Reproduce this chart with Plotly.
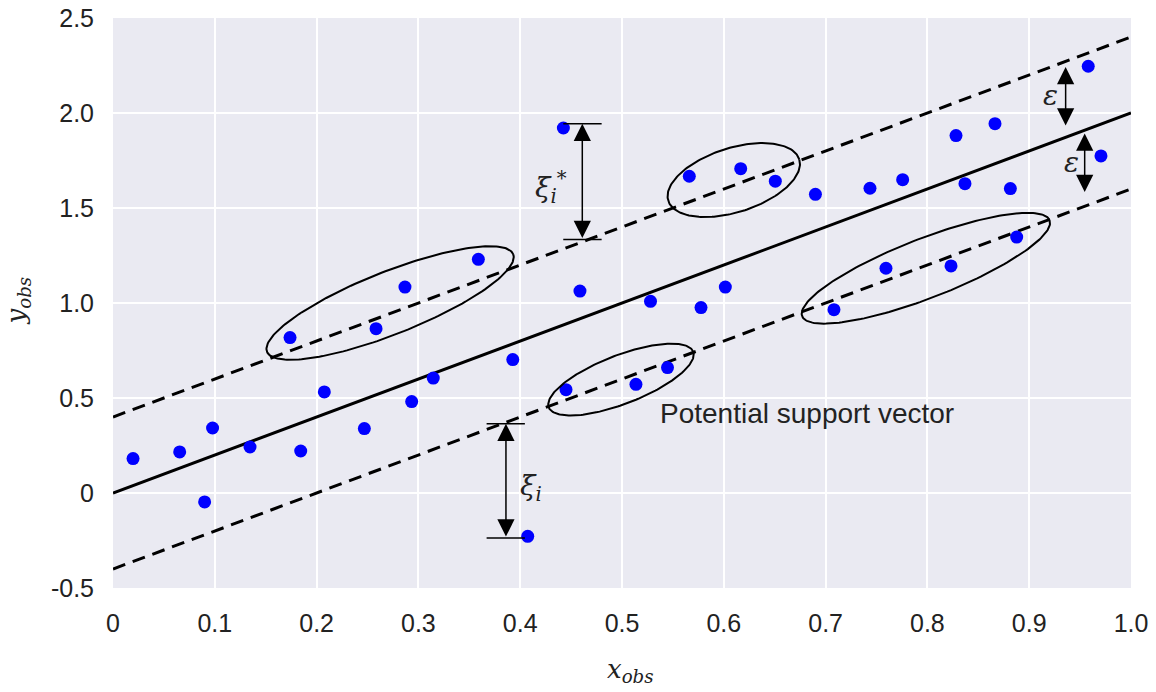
import numpy as np
import plotly.graph_objects as go

# ---------------- data ----------------
x_obs = [0.0197, 0.0655, 0.090, 0.0978, 0.1346, 0.1739, 0.1844, 0.2076, 0.2584, 0.2469,
         0.2868, 0.2934, 0.3146, 0.3589, 0.3927, 0.4074, 0.4424, 0.445, 0.4587, 0.5137,
         0.528, 0.5447, 0.5661, 0.5776, 0.6015, 0.6166, 0.6506, 0.690, 0.7082, 0.7436,
         0.7593, 0.7757, 0.8232, 0.8281, 0.8369, 0.8664, 0.8815, 0.8877, 0.958, 0.9705]
y_obs = [0.181, 0.216, -0.047, 0.342, 0.242, 0.818, 0.221, 0.532, 0.865, 0.339,
         1.084, 0.481, 0.605, 1.230, 0.702, -0.228, 1.921, 0.544, 1.063, 0.572,
         1.009, 0.660, 1.667, 0.976, 1.084, 1.707, 1.641, 1.572, 0.965, 1.604,
         1.183, 1.649, 1.195, 1.881, 1.628, 1.944, 1.602, 1.347, 2.246, 1.774]

line_x = [0.0, 1.0]
line_mid = [0.0, 2.0]
line_upper = [0.4, 2.4]
line_lower = [-0.4, 1.6]

x_ticks = [0, 0.1, 0.2, 0.3, 0.4, 0.5, 0.6, 0.7, 0.8, 0.9, 1.0]
x_ticktext = ["0", "0.1", "0.2", "0.3", "0.4", "0.5", "0.6", "0.7", "0.8", "0.9", "1.0"]
y_ticks = [-0.5, 0, 0.5, 1.0, 1.5, 2.0, 2.5]
y_ticktext = ["-0.5", "0", "0.5", "1.0", "1.5", "2.0", "2.5"]

# ellipses: centre (data), semi axes (px), tilt (deg)
ell_cx = [0.2722, 0.6098, 0.499, 0.7985]
ell_cy = [1.0, 1.647, 0.597, 1.183]
ell_a = [132.4, 68.7, 77.4, 132.7]
ell_b = [31.3, 32.1, 24.3, 29.7]
ell_ang = [21.6, 17.6, 21.1, 21.2]

# double arrows: x, y_top, y_bottom
arr_x = [0.461, 0.386, 0.9358, 0.9545]
arr_top = [1.944, 0.365, 2.242, 1.892]
arr_bot = [1.334, -0.237, 1.926, 1.576]
# cap lines: y, x0, x1
cap_y = [1.944, 1.334, 0.365, -0.237]
cap_x0 = [0.4423, 0.4423, 0.367, 0.367]
cap_x1 = [0.480, 0.480, 0.4046, 0.4046]

# math labels
lab_text = ["<i>ξ</i><sub><i>i</i></sub><sup>*</sup>", "<i>ξ</i><sub><i>i</i></sub>", "<i>ε</i>", "<i>ε</i>"]
lab_x = [0.430, 0.411, 0.921, 0.942]
lab_y = [1.609, 0.03, 2.09, 1.738]

# ---------------- layout ----------------
W, H = 1156, 692
ML, MR, MT, MB = 113, 25, 18, 104
xr = [0, 1.0]
yr = [-0.5, 2.5]
px_x = (W - ML - MR) / (xr[1] - xr[0])
px_y = (H - MT - MB) / (yr[1] - yr[0])

fig = go.Figure()

fig.add_trace(go.Scatter(x=line_x, y=line_upper, mode="lines",
                         line=dict(color="black", width=3, dash="13px,8px"), hoverinfo="skip"))
fig.add_trace(go.Scatter(x=line_x, y=line_lower, mode="lines",
                         line=dict(color="black", width=3, dash="13px,8px"), hoverinfo="skip"))
fig.add_trace(go.Scatter(x=line_x, y=line_mid, mode="lines",
                         line=dict(color="black", width=3), hoverinfo="skip"))

fig.add_trace(go.Scatter(x=x_obs, y=y_obs, mode="markers",
                         marker=dict(color="#0000FF", size=13, line=dict(width=0))))

t = np.linspace(0, 2 * np.pi, 200)
for cx, cy, a, b, ang in zip(ell_cx, ell_cy, ell_a, ell_b, ell_ang):
    th = np.deg2rad(ang)
    dx = a * np.cos(t) * np.cos(th) - b * np.sin(t) * np.sin(th)
    dy = a * np.cos(t) * np.sin(th) + b * np.sin(t) * np.cos(th)
    fig.add_trace(go.Scatter(x=cx + dx / px_x, y=cy + dy / px_y, mode="lines",
                             line=dict(color="black", width=2), hoverinfo="skip"))

for cy_, c0, c1 in zip(cap_y, cap_x0, cap_x1):
    fig.add_shape(type="line", x0=c0, x1=c1, y0=cy_, y1=cy_, xref="x", yref="y",
                  line=dict(color="black", width=1.5))

for ax_, yt, yb in zip(arr_x, arr_top, arr_bot):
    fig.add_annotation(x=ax_, y=yt, ax=ax_, ay=yb, xref="x", yref="y", axref="x", ayref="y",
                       showarrow=True, arrowhead=2, startarrowhead=2, arrowside="end+start",
                       arrowsize=2.3, startarrowsize=2.3, arrowwidth=1.5, arrowcolor="black",
                       standoff=0, startstandoff=0, text="")

for txt, lx, ly in zip(lab_text, lab_x, lab_y):
    fig.add_annotation(x=lx, y=ly, xref="x", yref="y", text=txt, showarrow=False,
                       xanchor="center", yanchor="middle",
                       font=dict(family="DejaVu Serif", size=28, color="#222222"))

fig.add_annotation(x=0.5353, y=0.42, xref="x", yref="y", text="Potential support vector",
                   showarrow=False, xanchor="left", yanchor="middle",
                   font=dict(family="Liberation Sans, Arial", size=28, color="#222222"))

# axis titles
fig.add_annotation(x=0.508, y=-0.145, xref="paper", yref="paper",
                   text="<i>x</i><sub><i>obs</i></sub>", showarrow=False,
                   xanchor="center", yanchor="middle",
                   font=dict(family="DejaVu Serif", size=26, color="#222222"))
fig.add_annotation(x=-0.094, y=0.505, xref="paper", yref="paper",
                   text="<i>y</i><sub><i>obs</i></sub>", showarrow=False, textangle=-90,
                   xanchor="center", yanchor="middle",
                   font=dict(family="DejaVu Serif", size=26, color="#222222"))

fig.update_layout(
    width=W, height=H,
    margin=dict(l=ML, r=MR, t=MT, b=MB),
    paper_bgcolor="white",
    plot_bgcolor="#EAEAF2",
    showlegend=False,
    font=dict(family="Liberation Sans, Arial", size=25, color="#222222"),
    xaxis=dict(range=xr, tickvals=x_ticks, ticktext=x_ticktext, showgrid=True,
               gridcolor="white", gridwidth=2, zeroline=False, showline=False,
               ticks="", ticklabelstandoff=18, automargin=False),
    yaxis=dict(range=yr, tickvals=y_ticks, ticktext=y_ticktext, showgrid=True,
               gridcolor="white", gridwidth=2, zeroline=False, showline=False,
               ticks="", ticklabelstandoff=18, automargin=False),
)

fig.write_html("out.html")
